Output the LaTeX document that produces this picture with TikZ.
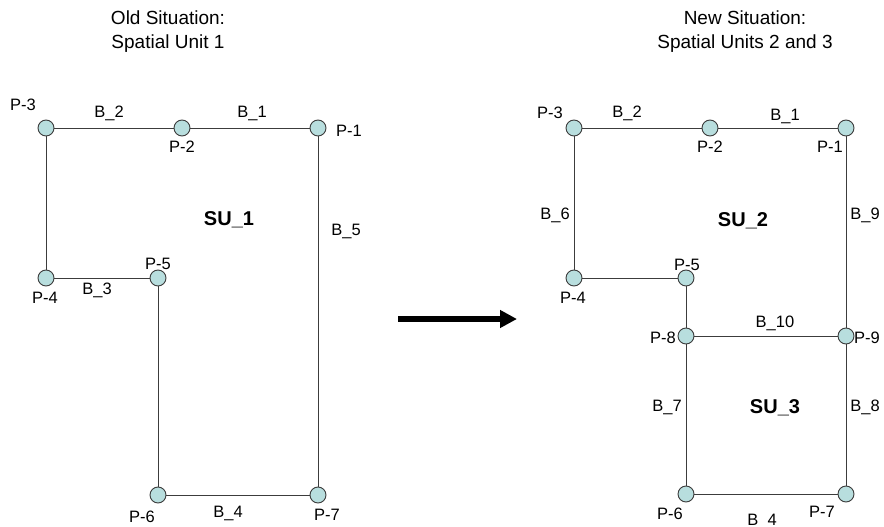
\documentclass[tikz,border=0pt]{standalone}
\usepackage{fontspec}
\setmainfont{Liberation Sans}
\usetikzlibrary{arrows.meta}
\definecolor{ptfill}{RGB}{184,222,222}
\definecolor{edgegray}{RGB}{60,60,60}

\begin{document}
\begin{tikzpicture}[x=1pt,y=-1pt,
  pnt/.style={circle, draw=edgegray, line width=0.9pt, fill=ptfill, minimum size=16pt, inner sep=0pt},
  lbl/.style={font=\fontsize{16.5}{19}\selectfont, inner sep=0pt},
  sulbl/.style={font=\fontsize{20}{24}\selectfont\bfseries, inner sep=0pt},
  ttl/.style={font=\fontsize{19}{24}\selectfont, align=center, inner sep=0pt},
  bnd/.style={draw=edgegray, line width=0.9pt}]
\useasboundingbox (0,0) rectangle (884,527);

% old situation
\node [ttl] (oldttl) at (168,32) {Old Situation:\\Spatial Unit 1};

\node [pnt] (a1) at (318,128) {};
\node [pnt] (a2) at (182,128) {};
\node [pnt] (a3) at (46,128) {};
\node [pnt] (a4) at (46,278) {};
\node [pnt] (a5) at (158,278) {};
\node [pnt] (a6) at (158,495) {};
\node [pnt] (a7) at (318,495) {};

\draw [bnd] (a3) -- (a2) -- (a1) -- (a7) -- (a6) -- (a5) -- (a4) -- (a3);

\node [lbl] (la1) at (349,131) {P-1};
\node [lbl] (la2) at (182,147) {P-2};
\node [lbl] (la3) at (23,105) {P-3};
\node [lbl] (la4) at (45,298) {P-4};
\node [lbl] (la5) at (158,264) {P-5};
\node [lbl] (la6) at (142,517) {P-6};
\node [lbl] (la7) at (327,515) {P-7};

\node [lbl] (lb1) at (252,113) {B\_1};
\node [lbl] (lb2) at (109,113) {B\_2};
\node [lbl] (lb3) at (97,290) {B\_3};
\node [lbl] (lb4) at (228,513) {B\_4};
\node [lbl] (lb5) at (346,231) {B\_5};
\node [sulbl] (su1) at (229,220) {SU\_1};

% the change
\coordinate (arrfrom) at (398,319);
\coordinate (arrto) at (517,319);
\draw [line width=5.5pt, -{Triangle[length=17pt,width=17pt]}] (arrfrom) -- (arrto);

% new situation
\node [ttl] (newttl) at (745,32) {New Situation:\\Spatial Units 2 and 3};

\node [pnt] (b1) at (846,128) {};
\node [pnt] (b2) at (710,128) {};
\node [pnt] (b3) at (574,128) {};
\node [pnt] (b4) at (574,278) {};
\node [pnt] (b5) at (686,278) {};
\node [pnt] (b6) at (686,494) {};
\node [pnt] (b7) at (846,494) {};
\node [pnt] (b8) at (686,336) {};
\node [pnt] (b9) at (846,336) {};

\draw [bnd] (b3) -- (b2) -- (b1) -- (b9) -- (b7) -- (b6) -- (b8) -- (b5) -- (b4) -- (b3);
\draw [bnd] (b8) -- (b9);

\node [lbl] (lbp1) at (830,147) {P-1};
\node [lbl] (lbp2) at (710,147) {P-2};
\node [lbl] (lbp3) at (550,113) {P-3};
\node [lbl] (lbp4) at (573,298) {P-4};
\node [lbl] (lbp5) at (687,265) {P-5};
\node [lbl] (lbp6) at (670,514) {P-6};
\node [lbl] (lbp7) at (822,512) {P-7};
\node [lbl] (lbp8) at (663,338) {P-8};
\node [lbl] (lbp9) at (867,338) {P-9};

\node [lbl] (lbb1) at (785,116) {B\_1};
\node [lbl] (lbb2) at (627,113) {B\_2};
\node [lbl] (lbb4) at (762,521) {B\_4};
\node [lbl] (lbb6) at (555,215) {B\_6};
\node [lbl] (lbb7) at (667,407) {B\_7};
\node [lbl] (lbb8) at (865,407) {B\_8};
\node [lbl] (lbb9) at (865,215) {B\_9};
\node [lbl] (lbb10) at (775,323) {B\_10};
\node [sulbl] (su2) at (743,221) {SU\_2};
\node [sulbl] (su3) at (775,408) {SU\_3};
\end{tikzpicture}
\end{document}
